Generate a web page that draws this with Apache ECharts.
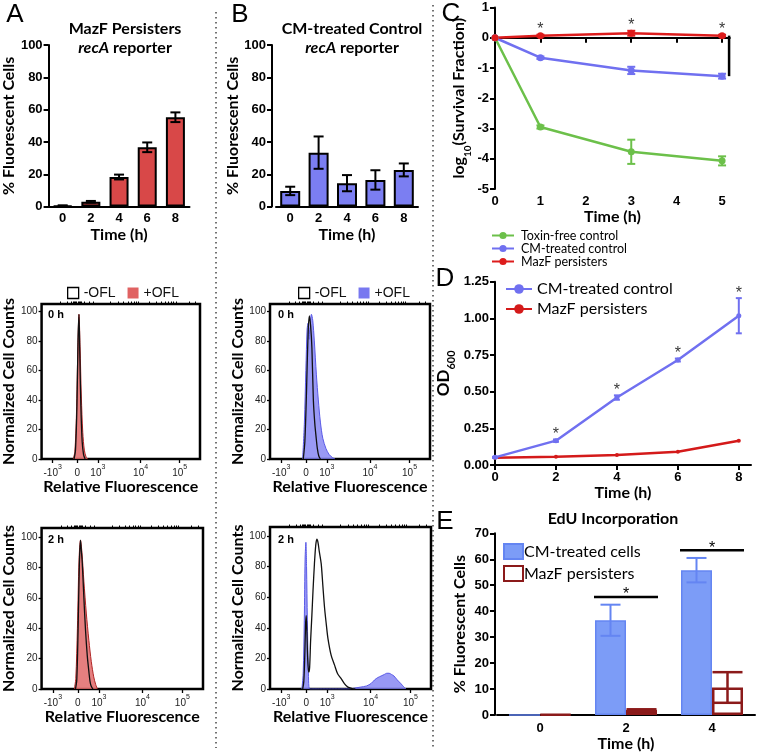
<!DOCTYPE html>
<html><head><meta charset="utf-8">
<script src="https://cdn.jsdelivr.net/npm/echarts@6/dist/echarts.min.js"></script>
<style>html,body{margin:0;padding:0;background:#fff}#c{width:762px;height:755px}</style>
</head><body><div id="c"></div><script>
// ---------------- DATA ----------------
// A / B : recA reporter, % fluorescent cells
const timeAB = ['0', '2', '4', '6', '8'];
const mazfRecA = [0.5, 3, 18.3, 36.7, 55.3];
const mazfRecAErr = [0.3, 0.5, 1.5, 3, 3];
const cmRecA = [9.7, 33.4, 14.5, 16.5, 22.7];
const cmRecAErr = [2.6, 10, 5, 6, 4];

// C : log10 survival fraction
const survTime = [0, 1, 3, 5];
const survToxinFree = [0, -2.95, -3.77, -4.07];
const survToxinFreeErr = [0, 0.05, 0.4, 0.15];
const survCM = [0, -0.66, -1.08, -1.27];
const survCMErr = [0, 0.04, 0.12, 0.08];
const survMazF = [0, 0.07, 0.15, 0.07];
const survMazFErr = [0, 0.03, 0.08, 0.03];
const survSigIdx = [1, 2, 3];

// D : OD600
const odTime = [0, 2, 4, 6, 8];
const odCM = [0.052, 0.166, 0.46, 0.716, 1.018];
const odCMErr = [0.004, 0.008, 0.015, 0.01, 0.12];
const odMazF = [0.05, 0.057, 0.068, 0.09, 0.166];
const odSigIdx = [1, 2, 3, 4];

// E : EdU incorporation
const eduTime = ['0', '2', '4'];
const eduCM = [0, 36.5, 55.8];
const eduCMErr = [0, 6, 4.7];
const eduMazF = [0.2, 1.9, 10.6];
const eduMazFErr = [0, 0.3, 5.9];
const eduSigIdx = [1, 2];

// Flow histograms: [display channel, normalized count]
const histTickPos = [70, 225, 355, 625, 872];
const histTickBase = ['-10', '0', '10', '10', '10'];
const histTickExp = ['3', '', '3', '4', '5'];
const histMinorPos = [120, 160, 185, 200, 207, 213, 218, 232, 237, 243, 250, 270, 300, 325,
  436, 483, 517, 544, 565, 583, 599, 612, 681, 724, 756, 781, 801, 819, 834, 847, 930, 970];
const histYTicks = [0, 20, 40, 60, 80, 100];

const histA0Minus = [[205,0],[214,6],[223,35],[230,80],[236,98],[241,72],[248,36],[256,12],[265,3],[275,0]];
const histA0Plus = [[200,0],[210,5],[220,30],[229,76],[236,98],[243,76],[251,42],[260,18],[270,6],[282,1],[292,0]];
const histA2Minus = [[210,0],[218,6],[226,38],[234,82],[241,98],[247,90],[252,83],[262,60],[272,39],[283,22],[293,11.5],[300,5],[307,2],[318,0]];
const histA2Plus = [[203,0],[212,7],[222,40],[232,85],[241,98],[250,90],[262,71],[277,50],[293,32],[308,18],[323,8],[335,3],[346,0]];
const histB0Minus = [[208,0],[218,12],[228,45],[238,85],[246,97],[254,90],[262,75],[271,40],[280,24],[288,15],[296,7],[305,2],[315,0]];
const histB0Plus = [[204,0],[215,25],[224,60],[232,88],[238,92],[243,81],[250,90],[259,98],[267,94],[277,80],[290,57],[302,40],[315,25],[330,14],[350,7],[370,3],[390,1],[406,0]];
const histB2Minus = [[203,0],[210,5],[216,22],[221,42],[225,48],[229,38],[234,20],[240,11],[246,14],[252,31],[260,48],[267,64],[276,82],[284,94],[291,98],[298,96],[306,90],[318,82],[328,68],[339,53],[350,42],[360,33],[380,22],[401,15.6],[420,10],[442,6.8],[462,3.5],[484,1.2],[510,0.3],[530,0]];
const histB2Plus = [[198,0],[206,10],[213,45],[218,85],[223,96],[227,80],[232,45],[238,15],[246,0],[484,0],[520,0.5],[560,1.2],[600,2],[630,3.8],[650,6],[670,7.5],[690,8.5],[710,9.5],[725,10.3],[740,10.3],[755,9.5],[770,8.5],[790,6],[814,3.4],[830,1.5],[845,0]];

// ---------------- STYLE ----------------
const RED = '#d84848', PERI = '#7b7ef2';
const C_GREEN = '#6cc04a', C_BLUE = '#7070f0', C_RED = '#dd1c1c';
const E_BLUE = '#7c9cf7', E_BLUE_B = '#6485f2', E_RED = '#8b1a1a';
const NUM = {fontFamily: 'Liberation Sans', fontWeight: 'bold', fontSize: 13, color: '#000'};
const TIT = {fontFamily: 'Lato', fontWeight: 'bold', fontSize: 16, color: '#000'};
const axLine = {show: true, lineStyle: {color: '#000', width: 2}};
const axTick = {show: true, length: 5, lineStyle: {color: '#000', width: 2}};

const chart = echarts.init(document.getElementById('c'));

function errBars(xi, pts, color, capW, lw, dx) {
  return {
    type: 'custom', xAxisIndex: xi, yAxisIndex: xi, silent: true, z: 6, data: pts,
    renderItem(params, api) {
      const x = api.value(0), m = api.value(1), e = api.value(2);
      if (!(e > 0)) return;
      const t = api.coord([x, m + e]), b = api.coord([x, m - e]);
      const cx = t[0] + (dx || 0);
      const st = {stroke: color, lineWidth: lw};
      return {type: 'group', children: [
        {type: 'line', shape: {x1: cx, y1: t[1], x2: cx, y2: b[1]}, style: st},
        {type: 'line', shape: {x1: cx - capW / 2, y1: t[1], x2: cx + capW / 2, y2: t[1]}, style: st},
        {type: 'line', shape: {x1: cx - capW / 2, y1: b[1], x2: cx + capW / 2, y2: b[1]}, style: st}
      ]};
    }
  };
}
function stars(xi, pts, dist) {
  return {type: 'scatter', xAxisIndex: xi, yAxisIndex: xi, silent: true, z: 7, data: pts,
    symbolSize: 1, itemStyle: {color: 'rgba(0,0,0,0)'},
    label: {show: true, position: 'top', distance: dist, formatter: '*', fontFamily: 'Liberation Sans', fontSize: 16, color: '#000'}};
}

const histGrids = [
  {left: 40, top: 304, width: 160, height: 155},
  {left: 270, top: 304, width: 160, height: 155},
  {left: 41, top: 528, width: 162, height: 161},
  {left: 270, top: 527, width: 161, height: 162}
];
const histYMax = [105, 105, 106, 106];
const histNameGapY = [20, 22, 20, 22];
const histNameGapX = [20, 20, 18, 18];

const grids = [
  {left: 48, top: 45, width: 141.5, height: 161.6},
  {left: 276, top: 45, width: 142, height: 161.6},
  {left: 495, top: 7.5, width: 234.8, height: 181.5},
  {left: 495, top: 281.7, width: 256, height: 183.3},
  {left: 497, top: 533.3, width: 258, height: 181.7}
].concat(histGrids.map(g => Object.assign({show: true, borderColor: '#000', borderWidth: 2.5, backgroundColor: 'transparent'}, g)));

const xAxes = [
  {type: 'category', gridIndex: 0, data: timeAB, axisLine: axLine, axisTick: {show: false}, axisLabel: Object.assign({margin: 5}, NUM),
    name: 'Time (h)', nameLocation: 'middle', nameGap: 20, nameTextStyle: TIT},
  {type: 'category', gridIndex: 1, data: timeAB, axisLine: axLine, axisTick: {show: false}, axisLabel: Object.assign({margin: 5}, NUM),
    name: 'Time (h)', nameLocation: 'middle', nameGap: 20, nameTextStyle: TIT},
  {type: 'value', gridIndex: 2, min: 0, max: 5.17, splitLine: {show: false}, axisLine: axLine,
    axisTick: Object.assign({customValues: [0, 1, 2, 3, 4, 5]}, axTick),
    axisLabel: Object.assign({customValues: [0, 1, 2, 3, 4, 5], margin: 6}, NUM),
    name: 'Time (h)', nameLocation: 'middle', nameGap: 18, nameTextStyle: TIT},
  {type: 'value', gridIndex: 3, min: 0, max: 8.4, splitLine: {show: false}, axisLine: axLine,
    axisTick: Object.assign({customValues: [0, 2, 4, 6, 8]}, axTick),
    axisLabel: Object.assign({customValues: [0, 2, 4, 6, 8], margin: 6}, NUM),
    name: 'Time (h)', nameLocation: 'middle', nameGap: 20, nameTextStyle: TIT},
  {type: 'category', gridIndex: 4, data: eduTime, axisLine: axLine, axisTick: {show: false}, axisLabel: Object.assign({margin: 7}, NUM),
    name: 'Time (h)', nameLocation: 'middle', nameGap: 20, nameTextStyle: TIT}
];
histGrids.forEach((g, i) => {
  xAxes.push({type: 'value', gridIndex: 5 + i, min: 0, max: 1000, splitLine: {show: false}, axisLine: {show: false},
    axisTick: {show: true, length: 4, customValues: histTickPos, lineStyle: {color: '#000', width: 1.3}},
    axisLabel: {customValues: histTickPos, margin: 5, color: '#222',
      formatter: v => { const k = histTickPos.indexOf(v); return '{b|' + histTickBase[k] + '}' + (histTickExp[k] ? '{s|' + histTickExp[k] + '}' : ''); },
      rich: {b: {fontFamily: 'Liberation Sans', fontSize: 10, color: '#222', verticalAlign: 'bottom', lineHeight: 14},
             s: {fontFamily: 'Liberation Sans', fontSize: 7, color: '#222', verticalAlign: 'top', lineHeight: 14}}},
    name: 'Relative Fluorescence', nameLocation: 'middle', nameGap: histNameGapX[i], nameTextStyle: TIT});
});
histGrids.forEach((g, i) => {
  xAxes.push({type: 'value', gridIndex: 5 + i, min: 0, max: 1000, splitLine: {show: false}, axisLine: {show: false},
    axisTick: {show: true, length: 2.5, customValues: histMinorPos, lineStyle: {color: '#000', width: 1}},
    axisLabel: {show: false}});
});

const yAxes = [
  {type: 'value', gridIndex: 0, min: 0, max: 100, interval: 20, splitLine: {show: false}, axisLine: axLine, axisTick: axTick,
    axisLabel: Object.assign({margin: 6}, NUM), name: '% Fluorescent Cells', nameLocation: 'middle', nameGap: 28, nameTextStyle: TIT},
  {type: 'value', gridIndex: 1, min: 0, max: 100, interval: 20, offset: 4, splitLine: {show: false}, axisLine: axLine, axisTick: axTick,
    axisLabel: Object.assign({margin: 6}, NUM), name: '% Fluorescent Cells', nameLocation: 'middle', nameGap: 26, nameTextStyle: TIT},
  {type: 'value', gridIndex: 2, min: -5, max: 1, interval: 1, splitLine: {show: false}, axisLine: axLine, axisTick: axTick,
    axisLabel: Object.assign({margin: 6}, NUM), name: '{b|log}{s|10}{b|(Survival Fraction)}', nameLocation: 'middle', nameGap: 22,
    nameTextStyle: {rich: {b: Object.assign({verticalAlign: 'top', lineHeight: 22}, TIT), s: Object.assign({}, TIT, {fontSize: 10, verticalAlign: 'bottom', lineHeight: 22})}}},
  {type: 'value', gridIndex: 3, min: 0, max: 1.25, interval: 0.25, splitLine: {show: false}, axisLine: axLine, axisTick: axTick,
    axisLabel: Object.assign({margin: 6, formatter: v => v.toFixed(2)}, NUM), name: '{b|OD}{s|600}', nameLocation: 'middle', nameGap: 38,
    nameTextStyle: {rich: {b: Object.assign({verticalAlign: 'top', lineHeight: 22}, TIT, {fontSize: 17}), s: Object.assign({}, TIT, {fontSize: 11, verticalAlign: 'bottom', lineHeight: 22})}}},
  {type: 'value', gridIndex: 4, min: 0, max: 70, interval: 10, offset: 2, splitLine: {show: false}, axisLine: axLine, axisTick: axTick,
    axisLabel: Object.assign({margin: 6}, NUM), name: '% Fluorescent Cells', nameLocation: 'middle', nameGap: 27, nameTextStyle: TIT}
];
histGrids.forEach((g, i) => {
  yAxes.push({type: 'value', gridIndex: 5 + i, min: 0, max: histYMax[i], splitLine: {show: false}, axisLine: {show: false},
    axisTick: {show: true, length: 3, customValues: histYTicks, lineStyle: {color: '#000', width: 1.3}},
    axisLabel: {customValues: histYTicks, margin: 4, fontFamily: 'Liberation Sans', fontSize: 10, color: '#222'},
    name: 'Normalized Cell Counts', nameLocation: 'middle', nameGap: histNameGapY[i], nameTextStyle: TIT});
});

const series = [];
// A & B bars
series.push({type: 'bar', name: 'A', xAxisIndex: 0, yAxisIndex: 0, data: mazfRecA, barWidth: 19,
  itemStyle: {color: RED, borderColor: '#000', borderWidth: 2}, silent: true});
series.push(errBars(0, mazfRecA.map((v, i) => [i, v, mazfRecAErr[i]]), '#000', 10, 2, 0));
series.push({type: 'bar', name: 'B', xAxisIndex: 1, yAxisIndex: 1, data: cmRecA, barWidth: 20,
  itemStyle: {color: PERI, borderColor: '#000', borderWidth: 2}, silent: true});
series.push(errBars(1, cmRecA.map((v, i) => [i, v, cmRecAErr[i]]), '#000', 10, 2, 0));

// C lines
[['C|Toxin-free control', survToxinFree, survToxinFreeErr, C_GREEN],
 ['C|CM-treated control', survCM, survCMErr, C_BLUE],
 ['C|MazF persisters', survMazF, survMazFErr, C_RED]].forEach(([n, vals, errs, col]) => {
  series.push({type: 'line', name: n, xAxisIndex: 2, yAxisIndex: 2, data: survTime.map((t, i) => [t, vals[i]]),
    symbol: 'circle', symbolSize: 7, lineStyle: {color: col, width: 2.5}, itemStyle: {color: col}, z: 4});
  series.push(errBars(2, survTime.map((t, i) => [t, vals[i], errs[i]]), col, 8, 2, 0));
});
series.push(stars(2, survSigIdx.map(i => [survTime[i], survMazF[i] + survMazFErr[i]]), -3));
series.push({type: 'custom', xAxisIndex: 2, yAxisIndex: 2, silent: true, data: [[survTime[3], survMazF[3], survCM[3]]],
  renderItem(p, api) {
    const a = api.coord([api.value(0), api.value(1)]), b = api.coord([api.value(0), api.value(2)]);
    return {type: 'line', shape: {x1: a[0] + 7, y1: a[1], x2: b[0] + 7, y2: b[1]}, style: {stroke: '#000', lineWidth: 2.5}};
  }});

// D lines
series.push({type: 'line', name: 'D|CM-treated control', xAxisIndex: 3, yAxisIndex: 3, data: odTime.map((t, i) => [t, odCM[i]]),
  symbol: 'circle', symbolSize: 5, lineStyle: {color: C_BLUE, width: 2.5}, itemStyle: {color: C_BLUE}, z: 4});
series.push(errBars(3, odTime.map((t, i) => [t, odCM[i], odCMErr[i]]), C_BLUE, 6, 2, 0));
series.push({type: 'line', name: 'D|MazF persisters', xAxisIndex: 3, yAxisIndex: 3, data: odTime.map((t, i) => [t, odMazF[i]]),
  symbol: 'circle', symbolSize: 4, lineStyle: {color: '#d41a1a', width: 2.5}, itemStyle: {color: '#d41a1a'}, z: 3});
series.push(stars(3, odSigIdx.map(i => [odTime[i], odCM[i] + odCMErr[i]]), -4));

// E bars
series.push({type: 'bar', name: 'E|CM-treated cells', xAxisIndex: 4, yAxisIndex: 4, data: eduCM, barWidth: 31, barGap: '0%',
  itemStyle: {color: E_BLUE, borderColor: E_BLUE_B, borderWidth: 1.5}, silent: true});
series.push({type: 'bar', name: 'E|MazF persisters', xAxisIndex: 4, yAxisIndex: 4, data: eduMazF, barWidth: 31, barGap: '0%',
  itemStyle: {color: '#fff', borderColor: E_RED, borderWidth: 2.5}, silent: true});
series.push(errBars(4, eduCM.map((v, i) => [i, v, eduCMErr[i]]), E_BLUE_B, 20, 2, -15.5));
series.push(errBars(4, eduMazF.map((v, i) => [i, v, eduMazFErr[i]]), E_RED, 30, 2.5, 15.5));
series.push({type: 'custom', xAxisIndex: 4, yAxisIndex: 4, silent: true, z: 7,
  data: eduSigIdx.map(i => [i, Math.max(eduCM[i] + eduCMErr[i], eduMazF[i] + eduMazFErr[i]) + 3]),
  renderItem(p, api) {
    const c = api.coord([api.value(0), api.value(1)]);
    return {type: 'group', children: [
      {type: 'line', shape: {x1: c[0] - 32, y1: c[1], x2: c[0] + 32, y2: c[1]}, style: {stroke: '#000', lineWidth: 2.5}},
      {type: 'text', style: {text: '*', x: c[0], y: c[1] + 6, textAlign: 'center', textVerticalAlign: 'bottom', font: '16px Liberation Sans', fill: '#000'}}
    ]};
  }});

// Histograms
const histSets = [
  ['HA', histA0Minus, histA0Plus, 'rgba(226,104,104,0.85)', '#b02525'],
  ['HB', histB0Minus, histB0Plus, 'rgba(128,128,242,0.8)', '#5a5ae6'],
  ['HA', histA2Minus, histA2Plus, 'rgba(226,104,104,0.85)', '#b02525'],
  ['HB', histB2Minus, histB2Plus, 'rgba(128,128,242,0.8)', '#5a5ae6']
];
histSets.forEach(([pre, minus, plus, fill, edge], i) => {
  series.push({type: 'line', name: pre + '|+OFL', xAxisIndex: 5 + i, yAxisIndex: 5 + i, data: plus, smooth: 0.3, symbol: 'none',
    lineStyle: {color: edge, width: 1}, itemStyle: {color: fill}, areaStyle: {color: fill, opacity: 1}, z: 2, silent: true});
  series.push({type: 'line', name: pre + '|-OFL', xAxisIndex: 5 + i, yAxisIndex: 5 + i, data: minus, smooth: 0.3, symbol: 'none',
    lineStyle: {color: '#111', width: 1.3}, itemStyle: {color: '#111'}, z: 3, silent: true});
});

const fmt = n => n.split('|')[1];
const legends = [
  {left: 486, top: 224, orient: 'vertical', itemWidth: 22, itemHeight: 9, itemGap: 0, formatter: fmt,
   textStyle: {fontFamily: 'Lato', fontSize: 12.5, color: '#000', padding: [0, 0, 0, 2]},
   data: ['C|Toxin-free control', 'C|CM-treated control', 'C|MazF persisters']},
  {left: 500, top: 276, orient: 'vertical', itemWidth: 26, itemHeight: 12, itemGap: 4, formatter: fmt,
   textStyle: {fontFamily: 'Lato', fontSize: 16, color: '#000'},
   data: ['D|CM-treated control', 'D|MazF persisters']},
  {left: 498, top: 538, orient: 'vertical', itemWidth: 19, itemHeight: 15, itemGap: 5, formatter: fmt, icon: 'rect',
   textStyle: {fontFamily: 'Lato', fontSize: 16, color: '#000', padding: [0, 0, 0, -4]},
   data: ['E|CM-treated cells', 'E|MazF persisters']},
  {left: 62, top: 281, orient: 'horizontal', itemWidth: 11, itemHeight: 11, itemGap: 12, formatter: fmt, icon: 'rect',
   textStyle: {fontFamily: 'Liberation Sans', fontSize: 14, color: '#111'},
   data: [{name: 'HA|-OFL', itemStyle: {color: '#fff', borderColor: '#000', borderWidth: 1.3}}, {name: 'HA|+OFL', itemStyle: {color: '#e06262'}}]},
  {left: 293, top: 281, orient: 'horizontal', itemWidth: 11, itemHeight: 11, itemGap: 12, formatter: fmt, icon: 'rect',
   textStyle: {fontFamily: 'Liberation Sans', fontSize: 14, color: '#111'},
   data: [{name: 'HB|-OFL', itemStyle: {color: '#fff', borderColor: '#000', borderWidth: 1.3}}, {name: 'HB|+OFL', itemStyle: {color: '#7878f0'}}]}
].map(l => Object.assign({selectedMode: false}, l));

const txt = (text, x, y, font, extra) => ({type: 'text', silent: true, z: 10,
  style: Object.assign({text, x, y, font, fill: '#000', textAlign: 'center', textVerticalAlign: 'middle'}, extra || {})});
const italicRich = {i: {fontFamily: 'Lato', fontStyle: 'italic', fontWeight: 'bold', fontSize: 16}, b: {fontFamily: 'Lato', fontWeight: 'bold', fontSize: 16}};
const graphic = [
  {type: 'line', silent: true, shape: {x1: 216, y1: 12, x2: 216, y2: 748}, style: {stroke: '#444', lineWidth: 1.5, lineDash: [1.5, 3.5]}},
  {type: 'line', silent: true, shape: {x1: 433, y1: 5, x2: 433, y2: 750}, style: {stroke: '#444', lineWidth: 1.5, lineDash: [1.5, 3.5]}},
  txt('A', 15, 15, '26px Liberation Sans'),
  txt('B', 240, 15, '26px Liberation Sans'),
  txt('C', 451, 14, '26px Liberation Sans'),
  txt('D', 445, 279, '26px Liberation Sans'),
  txt('E', 445, 522, '26px Liberation Sans'),
  txt('MazF Persisters', 125, 29, 'bold 16px Lato'),
  txt('{i|recA}{b| reporter}', 125, 48, 'bold 16px Lato', {rich: italicRich}),
  txt('CM-treated Control', 352, 29, 'bold 16px Lato'),
  txt('{i|recA}{b| reporter}', 352, 48, 'bold 16px Lato', {rich: italicRich}),
  txt('EdU Incorporation', 613, 519, 'bold 16px Lato'),
  txt('0 h', 48, 315, 'bold 11px Liberation Sans', {textAlign: 'left'}),
  txt('0 h', 278, 315, 'bold 11px Liberation Sans', {textAlign: 'left'}),
  txt('2 h', 48, 540, 'bold 11px Liberation Sans', {textAlign: 'left'}),
  txt('2 h', 278, 540, 'bold 11px Liberation Sans', {textAlign: 'left'})
];

chart.setOption({
  animation: false,
  backgroundColor: '#fff',
  grid: grids, xAxis: xAxes, yAxis: yAxes, series, legend: legends, graphic
});
</script></body></html>
